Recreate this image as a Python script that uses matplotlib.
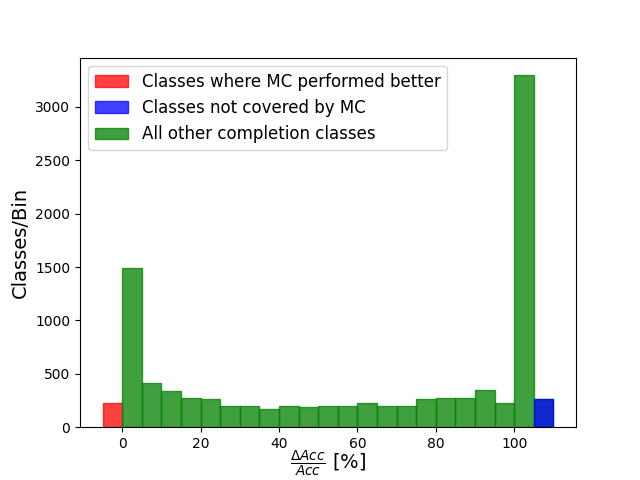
import numpy as np
import matplotlib
matplotlib.use("Agg")
import matplotlib.pyplot as plt

# bin edges (percent) and counts
green_edges = np.arange(0, 115, 5)
green_counts = [1488, 416, 335, 269, 260, 194, 203, 175, 194, 185, 203,
                203, 231, 194, 203, 260, 269, 278, 344, 222, 3297, 260]
red_edges = [-5, 0]
red_counts = [231]
blue_edges = [105, 110]
blue_counts = [260]

fig, ax = plt.subplots(figsize=(6.4, 4.8), dpi=100)

def draw(edges, counts, color, label):
    edges = np.asarray(edges, dtype=float)
    centers = (edges[:-1] + edges[1:]) / 2
    ax.hist(centers, bins=edges, weights=counts, color=color, alpha=0.75,
            edgecolor=color, label=label)

draw(red_edges, red_counts, "red", "Classes where MC performed better")
draw(green_edges, green_counts, "green", "All other completion classes")
draw(blue_edges, blue_counts, "blue", "Classes not covered by MC")

handles, labels = ax.get_legend_handles_labels()
order = [0, 2, 1]
ax.legend([handles[i] for i in order], [labels[i] for i in order],
          loc="upper left", fontsize=12)

ax.set_xlabel(r"$\frac{\Delta Acc}{Acc}$ [%]", fontsize=14, labelpad=-1.5)
ax.set_ylabel("Classes/Bin", fontsize=14)

plt.savefig("out.png")
